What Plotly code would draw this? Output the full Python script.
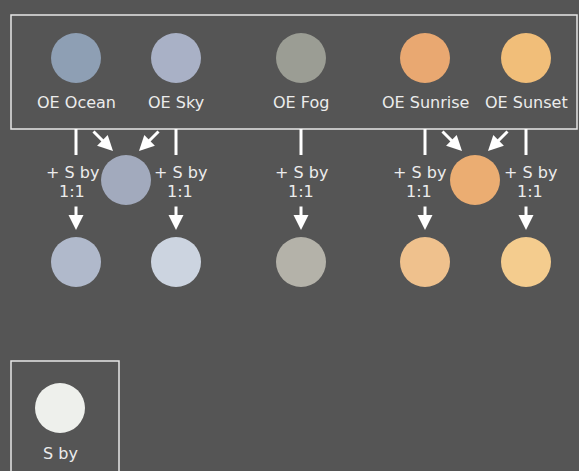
import plotly.graph_objects as go

W, H = 579, 471
BG = "#555555"
FG = "#ececec"
FONT = "DejaVu Sans"

# Data
base_names = ["OE Ocean", "OE Sky", "OE Fog", "OE Sunrise", "OE Sunset"]
base_colors = ["#8e9fb4", "#a9b1c6", "#9b9d94", "#e9a871", "#f1be79"]
diluted_colors = ["#b0b9cb", "#ccd4e0", "#b4b2a9", "#efc18d", "#f4cc8e"]
mix_colors = ["#a2aabd", "#ebad72"]
mix_label = ["+ S by", "1:1"]
s_name = "S by"
s_color = "#eef0ec"

# Layout positions (pixels)
col_x = [76, 176, 301, 425, 526]
top_y, mid_y, bot_y = 58, 180, 262
mix_x = [126, 475]
mix_pairs = [(0, 1), (3, 4)]
label_x = [72, 180, 301, 419, 530]
R = 25

fig = go.Figure()
shapes = []
annots = []

# top box
shapes.append(dict(type="rect", x0=11, x1=577, y0=15, y1=129,
                   line=dict(color="#e6e6e6", width=1.5)))
# bottom-left box
shapes.append(dict(type="rect", x0=11, x1=119, y0=361, y1=480,
                   line=dict(color="#e6e6e6", width=1.5)))

all_x, all_y, all_c = [], [], []
for i, (n, c) in enumerate(zip(base_names, base_colors)):
    all_x.append(col_x[i]); all_y.append(top_y); all_c.append(c)
    annots.append(dict(x=col_x[i], y=102, text=n, showarrow=False,
                       font=dict(size=16, color=FG, family=FONT),
                       xanchor="center", yanchor="middle"))
    shapes.append(dict(type="line", x0=col_x[i], x1=col_x[i], y0=129, y1=155,
                       line=dict(color="white", width=3)))
    annots.append(dict(x=label_x[i], y=172, text=mix_label[0], showarrow=False,
                       font=dict(size=16, color=FG, family=FONT)))
    annots.append(dict(x=label_x[i], y=191, text=mix_label[1], showarrow=False,
                       font=dict(size=16, color=FG, family=FONT)))
    annots.append(dict(x=col_x[i], y=230, ax=col_x[i], ay=205, xref="x", yref="y",
                       axref="x", ayref="y", text="", showarrow=True,
                       arrowhead=2, arrowsize=1, arrowwidth=3, arrowcolor="white"))
    all_x.append(col_x[i]); all_y.append(bot_y); all_c.append(diluted_colors[i])

for k, (a, b) in enumerate(mix_pairs):
    mx = mix_x[k]
    all_x.append(mx); all_y.append(mid_y); all_c.append(mix_colors[k])
    annots.append(dict(x=mx - 13, y=151, ax=mx - 34, ay=130, xref="x", yref="y",
                       axref="x", ayref="y", text="", showarrow=True,
                       arrowhead=2, arrowsize=1, arrowwidth=3, arrowcolor="white"))
    annots.append(dict(x=mx + 13, y=151, ax=mx + 34, ay=130, xref="x", yref="y",
                       axref="x", ayref="y", text="", showarrow=True,
                       arrowhead=2, arrowsize=1, arrowwidth=3, arrowcolor="white"))

all_x.append(60); all_y.append(408); all_c.append(s_color)
annots.append(dict(x=60, y=453, text=s_name, showarrow=False,
                   font=dict(size=16, color=FG, family=FONT)))

fig.add_trace(go.Scatter(x=all_x, y=all_y, mode="markers",
                         marker=dict(size=2 * R, color=all_c, line=dict(width=0)),
                         hoverinfo="skip"))

fig.update_layout(
    width=W, height=H, margin=dict(l=0, r=0, t=0, b=0),
    paper_bgcolor=BG, plot_bgcolor=BG, showlegend=False,
    xaxis=dict(range=[0, W], visible=False, fixedrange=True),
    yaxis=dict(range=[H, 0], visible=False, fixedrange=True),
    shapes=shapes, annotations=annots,
)
fig.write_html("out.html", config={"displayModeBar": False},
               post_script="document.body.style.margin='0';document.body.style.background='#555555';document.body.style.overflow='hidden';")
